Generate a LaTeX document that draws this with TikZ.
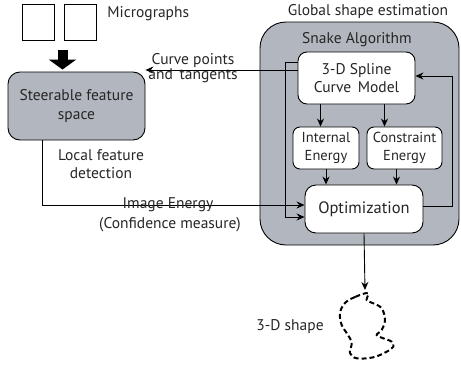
\documentclass[tikz,border=0pt]{standalone}
\usepackage{fontspec}
\setmainfont{PT Sans}
\usetikzlibrary{arrows.meta}
\definecolor{panelgray}{RGB}{178,183,191}

\begin{document}
\begin{tikzpicture}[x=1pt, y=-1pt, >={Stealth[length=8pt,width=7pt]},
  line width=0.9pt, black, text=black!85,
  font=\fontsize{15.5}{18.5}\selectfont,
  frame/.style={draw, minimum width=32, minimum height=36},
  block/.style={draw, fill=white, rounded corners=9, align=center, inner sep=1pt},
  lbl/.style={align=center, inner sep=0pt}]
  \useasboundingbox (0,0) rectangle (461,367);

  % background panel of the snake
  \node[draw, fill=panelgray, rounded corners=26, minimum width=199, minimum height=223]
    (snake) at (359.5,133.5) {};
  \node[lbl] (globtitle) at (368,12) {Global shape estimation};
  \node[lbl] (snaketitle) at (357,40) {Snake Algorithm};

  % input images
  \node[frame] (img1) at (38,22) {};
  \node[frame] (img2) at (80.5,22) {};
  \node[lbl, anchor=west] (imglbl) at (107,14) {Micrographs};

  \node[draw, fill=panelgray, rounded corners=12, minimum width=137, minimum height=68,
    align=center] (steer) at (76.5,106) {Steerable feature\\space};
  \coordinate (feed) at (62.5,50);
  \draw[line width=10pt, -{Triangle[length=10pt,width=27pt]}, shorten >=2pt]
    (feed) -- (feed |- steer.north);

  % blocks inside the panel
  \node[block, minimum width=117, minimum height=52] (spline) at (356.5,78)
    {3-D Spline\\Curve\, Model};
  \node[block, rounded corners=7, minimum width=66, minimum height=42,
    font=\fontsize{14.5}{17.5}\selectfont] (internal) at (326,148) {Internal\\Energy};
  \node[block, rounded corners=7, minimum width=75, minimum height=42,
    font=\fontsize{14.5}{17.5}\selectfont] (constraint) at (404.5,148) {Constraint\\Energy};
  \node[block, rounded corners=11, minimum width=118, minimum height=48,
    font=\fontsize{16.5}{19}\selectfont] (optim) at (364,209) {Optimization};

  \coordinate (result) at (365,290);

  \draw[->] ([xshift=-36]spline.south) -- ([xshift=-36]spline.south |- internal.north);
  \draw[->] ([xshift=28]spline.south) -- ([xshift=28]spline.south |- constraint.north);
  \draw[->] (internal.south) -- (internal.south |- optim.north);
  \draw[->] ([xshift=-8]constraint.south) -- ([xshift=-8]constraint.south |- optim.north);

  % feedback loops
  \draw[->] ([yshift=16]spline.west) -- ++(-12,0) |- ([yshift=-8]optim.west);
  \draw[->] ([yshift=3]optim.east) -- ++(29,0) |- ([yshift=2]spline.east);

  % links to the feature space
  \draw[->] ([yshift=8]spline.west) -- ([yshift=8]spline.west -| steer.east);
  \node[lbl] (curvelbl) at (193,68) {Curve points\\[-3pt]and\, tangents};
  \draw[->] ([xshift=-34.5]steer.south) |- ([yshift=4]optim.west);
  \node[lbl] (locallbl) at (101,164) {Local feature\\detection};
  \node[lbl, anchor=south] (energylbl) at (168,212) {Image Energy};
  \node[lbl, anchor=north] (conflbl) at (170,217) {(Confidence measure)};

  % output curve
  \draw[->] (optim.south) -- (result);
  \draw[line width=2pt, dash pattern=on 5pt off 3pt]
    plot[smooth cycle, tension=0.6] coordinates {
      (368,293) (355,297) (345,303) (340,313) (341.7,325) (348,335) (351.7,343)
      (350,353) (356.7,358.3) (373.3,357.3) (386.7,351.7) (393.3,346.7) (391.7,341.7)
      (383.3,338.3) (376.7,335) (381.7,330) (385,320) (381.7,308.3) (373.3,303.3)
      (366.7,300)};
  \node[lbl] (shapelbl) at (290,327) {3-D shape};
\end{tikzpicture}
\end{document}
